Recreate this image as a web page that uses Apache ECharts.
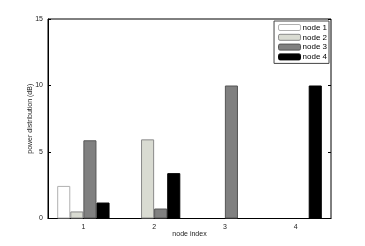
<!DOCTYPE html>
<html><head><meta charset="utf-8">
<script src="https://cdn.jsdelivr.net/npm/echarts@6/dist/echarts.min.js"></script>
<style>html,body{margin:0;padding:0;background:#fff}#c{width:365px;height:246px}</style>
</head><body><div id="c"></div>
<script>
var categories = ['1', '2', '3', '4'];
var node1 = [2.45, 0, 0, 0];
var node2 = [0.53, 5.95, 0, 0];
var node3 = [5.88, 0.75, 10, 0];
var node4 = [1.2, 3.41, 0, 10];
var seriesNames = ['node 1', 'node 2', 'node 3', 'node 4'];
var yTicks = [0, 5, 10, 15];

var fills = ['#ffffff', '#d9dbd2', '#808080', '#000000'];
var borders = ['#b0b0b0', '#8a8a8a', '#555555', '#000000'];
var font = 'Liberation Sans, Arial, sans-serif';
var chart = echarts.init(document.getElementById('c'));
var data = [node1, node2, node3, node4];
var series = data.map(function (d, i) {
  return {
    name: seriesNames[i], type: 'bar',
    data: d.map(function (v) { return v === 0 ? '-' : v; }),
    barGap: '0%', barCategoryGap: '26%',
    itemStyle: { color: fills[i], borderColor: borders[i], borderWidth: 1 },
    emphasis: { disabled: true }, animation: false
  };
});
chart.setOption({
  animation: false,
  grid: { left: 48, right: 34, top: 19, bottom: 27.5, show: true, borderColor: '#000', borderWidth: 1, backgroundColor: 'transparent' },
  legend: {
    right: 36, top: 21, orient: 'vertical', itemWidth: 22, itemHeight: 6, itemGap: 1.8,
    padding: [2.5, 2, 2.5, 4], borderColor: '#444', borderWidth: 1, backgroundColor: '#fff',
    textStyle: { fontFamily: font, fontSize: 8, lineHeight: 8, color: '#000', padding: [0, 0, 0, -3] },
    data: seriesNames.map(function (n, i) { return { name: n, itemStyle: { color: fills[i], borderColor: borders[i], borderWidth: 1 } }; })
  },
  xAxis: [{
    type: 'category', data: categories, position: 'bottom',
    name: 'node index', nameLocation: 'middle', nameGap: 12, nameMoveOverlap: false,
    nameTextStyle: { fontFamily: font, fontSize: 7, color: '#222' },
    axisLine: { lineStyle: { color: '#000' } },
    axisTick: { inside: true, length: 3, alignWithLabel: true, lineStyle: { color: '#000' } },
    axisLabel: { fontFamily: font, fontSize: 7, color: '#222', margin: 5 }
  }, {
    type: 'category', data: categories, position: 'top',
    axisLine: { show: false },
    axisTick: { inside: true, length: 3, alignWithLabel: true, lineStyle: { color: '#000' } },
    axisLabel: { show: false }
  }],
  yAxis: [{
    type: 'value', min: 0, max: 15, interval: 5,
    name: 'power distribution (dB)', nameLocation: 'middle', nameGap: 14, nameMoveOverlap: false,
    nameTextStyle: { fontFamily: font, fontSize: 7, color: '#222' },
    axisLine: { show: true, lineStyle: { color: '#000' } },
    axisTick: { show: true, inside: true, length: 3, lineStyle: { color: '#000' } },
    splitLine: { show: false },
    axisLabel: { fontFamily: font, fontSize: 7, color: '#222', margin: 5,
      formatter: function (v) { return yTicks.indexOf(v) >= 0 ? String(v) : ''; } }
  }, {
    type: 'value', min: 0, max: 15, interval: 5, position: 'right',
    axisLine: { show: false },
    axisTick: { show: true, inside: true, length: 3, lineStyle: { color: '#000' } },
    splitLine: { show: false }, axisLabel: { show: false }
  }],
  series: series
});
</script></body></html>
